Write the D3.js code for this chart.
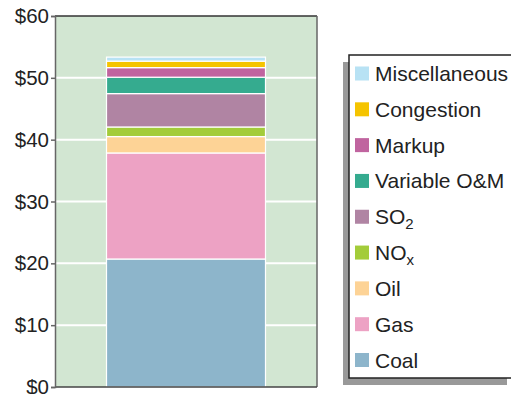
<!DOCTYPE html>
<html><head><meta charset="utf-8">
<script src="https://cdn.jsdelivr.net/npm/d3@7/dist/d3.min.js"></script>
<style>body{margin:0;background:#fff}svg{display:block}text{font-family:"Liberation Sans",Arial,sans-serif}</style>
</head><body>
<svg id="c" width="511" height="394"></svg>
<script>
const categories = ["Total"];
const seriesNames = ["Coal","Gas","Oil","NOx","SO2","Variable O&M","Markup","Congestion","Miscellaneous"];
const seriesValues = [20.7, 17.15, 2.65, 1.55, 5.4, 2.65, 1.55, 1.05, 0.65];
const seriesColors = ["#8db5cb","#eda2c4","#fdd396","#a3cc3a","#b084a3","#35ab8f","#c0649f","#f5c400","#b8e2f4"];
const yTicks = [0,10,20,30,40,50,60];
const tickLabels = ["$0","$10","$20","$30","$40","$50","$60"];

const svg = d3.select("#c");
const L = 55, R = 317, T = 16, B = 387;
const y = d3.scaleLinear().domain([0,60]).range([B,T]);
const x = d3.scaleBand().domain(categories).range([L,R]).paddingInner(0).paddingOuter(0.324);

svg.append("rect").attr("x",L).attr("y",T).attr("width",R-L).attr("height",B-T).attr("fill","#d2e6d2");
svg.append("g").selectAll("line").data(yTicks.filter(d=>d>0&&d<60)).join("line")
  .attr("x1",L).attr("x2",R).attr("y1",d=>y(d)).attr("y2",d=>y(d))
  .attr("stroke","#fff").attr("stroke-width",2);

const row = {cat: categories[0]};
seriesNames.forEach((s,i)=>row[s]=seriesValues[i]);
const stack = d3.stack().keys(seriesNames)([row]);
svg.append("g").selectAll("rect").data(stack).join("rect")
  .attr("x",x(categories[0])).attr("width",x.bandwidth())
  .attr("y",d=>y(d[0][1])).attr("height",d=>y(d[0][0])-y(d[0][1]))
  .attr("fill",(d,i)=>seriesColors[i]).attr("stroke","#fff").attr("stroke-width",1.2);

svg.append("line").attr("x1",L).attr("x2",R).attr("y1",T).attr("y2",T).attr("stroke","#333").attr("stroke-width",1.5);
svg.append("line").attr("x1",R).attr("x2",R).attr("y1",T).attr("y2",B).attr("stroke","#666").attr("stroke-width",1.5);
svg.append("line").attr("x1",L).attr("x2",R).attr("y1",B).attr("y2",B).attr("stroke","#444").attr("stroke-width",1.5);

const yAxis = d3.axisLeft(y).tickValues(yTicks).tickFormat((d,i)=>tickLabels[i]).tickSize(4).tickPadding(2);
const ga = svg.append("g").attr("transform",`translate(${L},0)`).call(yAxis);
ga.select(".domain").attr("stroke","#666").attr("stroke-width",1.5);
ga.selectAll(".tick line").attr("stroke","#666").attr("stroke-width",1.5);
ga.selectAll(".tick text").attr("font-size",20.5).attr("fill","#222").style("font-family","Liberation Sans, Arial, sans-serif");

const lg = svg.append("g");
lg.append("rect").attr("x",343).attr("y",62).attr("width",164).attr("height",323).attr("fill","#999");
lg.append("rect").attr("x",349).attr("y",55).attr("width",170).attr("height",323).attr("fill","#fff").attr("stroke","#222").attr("stroke-width",1.5);
const legendOrder = seriesNames.map((s,i)=>i).reverse();
const ly = d3.scalePoint().domain(legendOrder).range([73.5,360]);
const items = lg.selectAll("g.it").data(legendOrder).join("g").attr("class","it")
  .attr("transform",d=>`translate(0,${ly(d)})`);
items.append("rect").attr("x",355).attr("y",-7).attr("width",14).attr("height",14).attr("fill",d=>seriesColors[d]);
items.each(function(d){
  const name = seriesNames[d];
  const t = d3.select(this).append("text").attr("x",375).attr("y",7.5).attr("font-size",21).attr("fill","#222");
  const m = name.match(/^(SO|NO)(2|x)$/);
  if(m){
    t.append("tspan").text(m[1]);
    t.append("tspan").attr("dy",5).attr("font-size",15).text(m[2]);
  } else t.text(name);
});
</script>
</body></html>
